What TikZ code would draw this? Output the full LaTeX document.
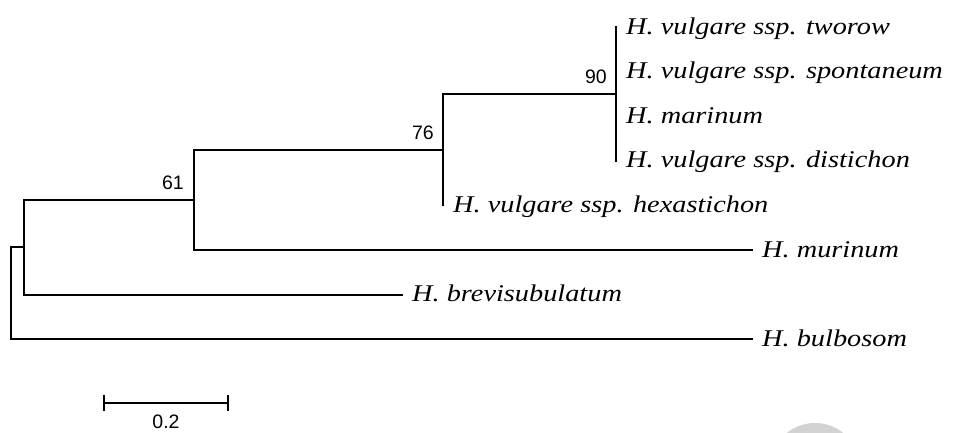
\documentclass[tikz,border=0pt]{standalone}
\usepackage{fontspec}
\setmainfont{Liberation Serif}
\newfontfamily\taxfont[FakeStretch=1.18]{Liberation Serif}
\newfontfamily\numfont{Liberation Sans}
\usetikzlibrary{calc}
\begin{document}
\begin{tikzpicture}[x=1pt,y=-1pt,
  branch/.style={line width=1.8pt, line cap=rect},
  taxon/.style={font=\taxfont\fontsize{24}{26}\selectfont\itshape, anchor=base west, inner sep=0pt},
  boot/.style={font=\numfont\fontsize{19.5}{21}\selectfont, anchor=base east, inner sep=0pt}]
\useasboundingbox (0,0) rectangle (954,432);
\begin{scope}
  \clip (0,0) rectangle (954,432);
  \fill[gray!35] (815,468) circle (45pt);
\end{scope}
% internal nodes
\coordinate (root) at (11,293.2);
\coordinate (nA) at (24,247.2);
\coordinate (n61) at (194,199.8);
\coordinate (n76) at (443,149.65);
\coordinate (n90) at (616,93.9);
% leaf tips
\coordinate (tworow) at (616,27);
\coordinate (spont) at (616,71.6);
\coordinate (marinum) at (616,116.2);
\coordinate (distichon) at (616,160.8);
\coordinate (hexa) at (443,205.4);
\coordinate (murinum) at (752,250);
\coordinate (brevi) at (402,294.6);
\coordinate (bulbosom) at (752,339.2);
% branches
\draw[branch] (root) |- (nA);
\draw[branch] (root) |- (bulbosom);
\draw[branch] (nA) |- (n61);
\draw[branch] (nA) |- (brevi);
\draw[branch] (n61) |- (n76);
\draw[branch] (n61) |- (murinum);
\draw[branch] (n76) |- (n90);
\draw[branch] (n76) |- (hexa);
\draw[branch] (n90) |- (tworow);
\draw[branch] (n90) |- (spont);
\draw[branch] (n90) |- (marinum);
\draw[branch] (n90) |- (distichon);
% taxon labels
\node[taxon] (ltworow) at ($(tworow)+(10,7)$) {H. vulgare ssp. tworow};
\node[taxon] (lspont) at ($(spont)+(10,7)$) {H. vulgare ssp. spontaneum};
\node[taxon] (lmarinum) at ($(marinum)+(10,7)$) {H. marinum};
\node[taxon] (ldistichon) at ($(distichon)+(10,7)$) {H. vulgare ssp. distichon};
\node[taxon] (lhexa) at ($(hexa)+(10,7)$) {H. vulgare ssp. hexastichon};
\node[taxon] (lmurinum) at ($(murinum)+(10,7)$) {H. murinum};
\node[taxon] (lbrevi) at ($(brevi)+(10,7)$) {H. brevisubulatum};
\node[taxon] (lbulbosom) at ($(bulbosom)+(10,7)$) {H. bulbosom};
% bootstrap values
\node[boot] (b90) at ($(n90)+(-9,-10)$) {90};
\node[boot] (b76) at ($(n76)+(-9,-10)$) {76};
\node[boot] (b61) at ($(n61)+(-10,-10)$) {61};
% scale bar
\coordinate (sbL) at (104,402.7);
\coordinate (sbR) at (228,402.7);
\draw[branch, line cap=butt] (sbL) -- (sbR);
\draw[branch, line cap=butt] ($(sbL)+(0,-8)$) -- ($(sbL)+(0,8)$);
\draw[branch, line cap=butt] ($(sbR)+(0,-8)$) -- ($(sbR)+(0,8)$);
\node[font=\numfont\fontsize{19.5}{21}\selectfont, anchor=base, inner sep=0pt] (sblabel) at (166,428.8) {0.2};
\end{tikzpicture}
\end{document}
